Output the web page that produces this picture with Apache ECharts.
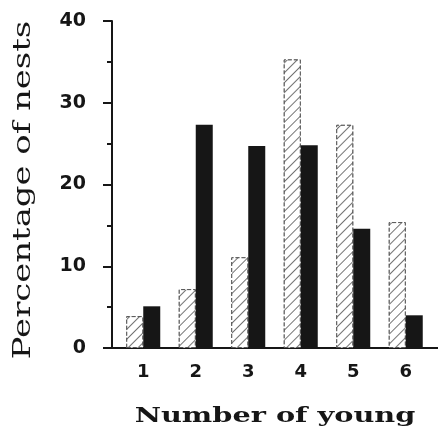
<!DOCTYPE html>
<html><head><meta charset="utf-8">
<script src="https://cdn.jsdelivr.net/npm/echarts@6/dist/echarts.min.js"></script>
<style>html,body{margin:0;padding:0;background:#fff}#c{width:438px;height:429px}</style>
</head><body><div id="c"></div>
<script>
const categories = ['1', '2', '3', '4', '5', '6'];
const hatchedValues = [3.9, 7.2, 11.1, 35.3, 27.3, 15.4];
const solidValues = [5.1, 27.3, 24.7, 24.8, 14.6, 4.0];
const yMin = 0, yMax = 40, yStep = 10;
const xTitle = 'Number of young';
const yTitle = 'Percentage of nests';

const ink = '#161616';
const chart = echarts.init(document.getElementById('c'), null, {renderer: 'canvas'});
chart.setOption({
  animation: false,
  backgroundColor: '#fff',
  grid: [
    {left: 117, right: 6, top: 21, bottom: 81, outerBoundsMode: 'none'},
    {left: 104, right: 0, top: 21, bottom: 81, outerBoundsMode: 'none'}
  ],
  xAxis: [
    {type: 'category', gridIndex: 0, data: categories,
     axisLine: {show: false}, axisTick: {show: false},
     axisLabel: {margin: 15, fontSize: 18, fontWeight: 'bold', fontFamily: 'DejaVu Sans', color: ink}},
    {type: 'value', gridIndex: 1, min: 0, max: 1,
     axisLine: {show: true, lineStyle: {color: ink, width: 2}},
     axisTick: {show: false}, axisLabel: {show: false}, splitLine: {show: false}}
  ],
  yAxis: [
    {type: 'value', gridIndex: 0, min: yMin, max: yMax, interval: yStep, offset: 5,
     axisLine: {show: true, lineStyle: {color: ink, width: 2}},
     axisTick: {show: true, length: 9, lineStyle: {color: ink, width: 2}},
     minorTick: {show: true, splitNumber: 2, length: 5, lineStyle: {color: ink, width: 2}},
     axisLabel: {margin: 26, fontSize: 19, fontWeight: 'bold', fontFamily: 'DejaVu Sans', color: ink},
     splitLine: {show: false}},
    {type: 'value', gridIndex: 1, show: false}
  ],
  series: [
    {type: 'bar', xAxisIndex: 0, yAxisIndex: 0, data: hatchedValues, barWidth: 17, barGap: '0%',
     itemStyle: {color: '#fff', borderColor: '#555', borderWidth: 1, borderType: 'dashed',
       decal: {symbol: 'rect', symbolSize: 1, dashArrayX: [1, 0], dashArrayY: [1, 6],
               rotation: -Math.PI / 4, color: 'rgba(0,0,0,0.55)', backgroundColor: '#fff'}}},
    {type: 'bar', xAxisIndex: 0, yAxisIndex: 0, data: solidValues, barWidth: 17, barGap: '0%',
     itemStyle: {color: ink}}
  ],
  graphic: [
    {type: 'text', x: 275, y: 417, scaleX: 1.37,
     style: {text: xTitle, font: 'bold 21px "DejaVu Serif"', fill: ink, textAlign: 'center', textVerticalAlign: 'middle'}},
    {type: 'text', x: 24, y: 190, rotation: Math.PI / 2, scaleX: 1.41,
     style: {text: yTitle, font: '24px "DejaVu Serif"', fill: ink, textAlign: 'center', textVerticalAlign: 'middle'}}
  ]
});
</script></body></html>
